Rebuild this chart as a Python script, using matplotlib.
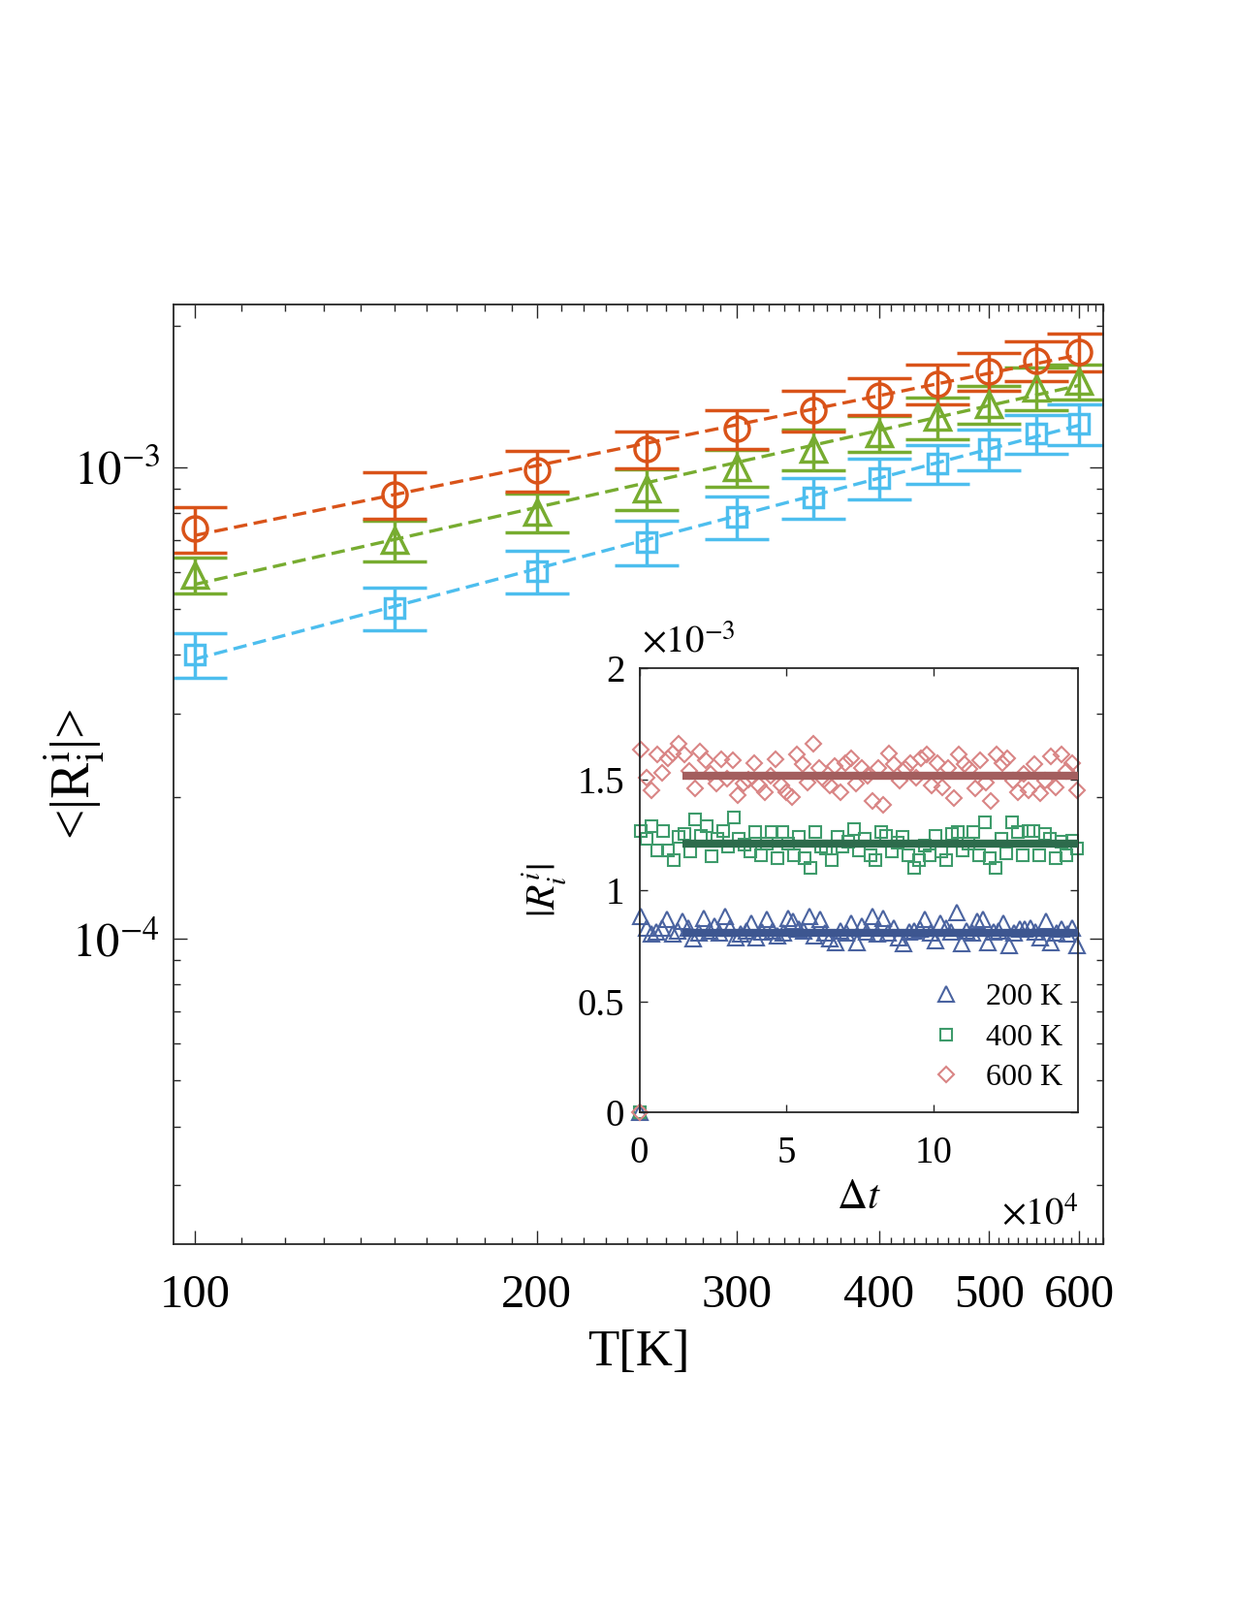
import matplotlib
matplotlib.use("Agg")
import matplotlib.pyplot as plt
import numpy as np
from matplotlib.ticker import FixedLocator, NullFormatter, FuncFormatter, LogLocator

plt.rcParams['font.family'] = ['Liberation Serif', 'DejaVu Serif']
plt.rcParams['mathtext.fontset'] = 'stix'

# main panel: <|R_i^i|> vs temperature (values in units of 1e-4)
temps = [100, 150, 200, 250, 300, 350, 400, 450, 500, 550, 600]
circ_val = [7.42, 8.76, 9.86, 10.94, 12.08, 13.22, 14.19, 15.03, 15.99, 16.84, 17.58]
circ_err = [0.82, 1.00, 0.98, 0.98, 1.14, 1.32, 1.30, 1.45, 1.47, 1.63, 1.62]
tri_val = [5.91, 7.01, 8.04, 9.01, 10.00, 10.94, 11.80, 12.79, 13.61, 14.75, 15.24]
tri_err = [0.52, 0.70, 0.75, 0.90, 0.90, 1.10, 1.04, 1.30, 1.24, 1.50, 1.29]
sq_val = [4.01, 5.03, 6.03, 6.95, 7.85, 8.63, 9.49, 10.19, 10.94, 11.80, 12.38]
sq_err = [0.43, 0.52, 0.62, 0.76, 0.81, 0.85, 0.95, 0.97, 1.07, 1.12, 1.21]

# inset: |R_i^i| vs time lag (values in units of 1e-3, first sample at dt = 0)
r_200 = [0, 0.882, 0.831, 0.803, 0.812, 0.831, 0.869, 0.803, 0.815, 0.860, 0.831, 0.782, 0.808, 0.875,
         0.817, 0.838, 0.810, 0.882, 0.831, 0.787, 0.805, 0.817, 0.853, 0.787, 0.812, 0.869, 0.817, 0.795,
         0.808, 0.875, 0.860, 0.825, 0.815, 0.882, 0.795, 0.869, 0.810, 0.782, 0.766, 0.817, 0.806, 0.853,
         0.766, 0.838, 0.812, 0.882, 0.803, 0.875, 0.808, 0.831, 0.787, 0.760, 0.814, 0.817, 0.825, 0.869,
         0.806, 0.773, 0.853, 0.831, 0.812, 0.898, 0.760, 0.817, 0.809, 0.860, 0.869, 0.766, 0.811, 0.817,
         0.853, 0.751, 0.806, 0.825, 0.825, 0.831, 0.813, 0.787, 0.860, 0.766, 0.808, 0.825, 0.803, 0.831,
         0.751]
r_400 = [0, 1.268, 1.231, 1.290, 1.180, 1.268, 1.180, 1.137, 1.240, 1.253, 1.175, 1.319, 1.246, 1.290,
         1.153, 1.231, 1.268, 1.196, 1.328, 1.231, 1.205, 1.175, 1.262, 1.158, 1.210, 1.262, 1.144, 1.262,
         1.212, 1.158, 1.240, 1.144, 1.100, 1.262, 1.196, 1.187, 1.137, 1.240, 1.198, 1.218, 1.275, 1.180,
         1.231, 1.158, 1.137, 1.262, 1.246, 1.175, 1.215, 1.240, 1.158, 1.100, 1.137, 1.202, 1.158, 1.246,
         1.175, 1.137, 1.253, 1.262, 1.180, 1.208, 1.262, 1.158, 1.306, 1.144, 1.100, 1.231, 1.166, 1.306,
         1.262, 1.158, 1.268, 1.268, 1.158, 1.253, 1.231, 1.144, 1.218, 1.158, 1.224, 1.187]
r_600 = [0, 1.633, 1.508, 1.450, 1.611, 1.530, 1.595, 1.617, 1.660, 1.611, 1.537, 1.458, 1.624, 1.585,
         1.524, 1.480, 1.590, 1.502, 1.585, 1.428, 1.480, 1.500, 1.573, 1.470, 1.440, 1.515, 1.590, 1.470,
         1.440, 1.420, 1.611, 1.568, 1.486, 1.660, 1.550, 1.500, 1.470, 1.560, 1.440, 1.573, 1.595, 1.480,
         1.550, 1.515, 1.400, 1.550, 1.384, 1.617, 1.568, 1.493, 1.546, 1.573, 1.508, 1.595, 1.611, 1.470,
         1.573, 1.464, 1.550, 1.415, 1.611, 1.568, 1.546, 1.458, 1.585, 1.486, 1.400, 1.611, 1.573, 1.595,
         1.493, 1.440, 1.524, 1.450, 1.568, 1.437, 1.493, 1.604, 1.464, 1.611, 1.537, 1.573, 1.450]
mean_levels = [0.806, 1.210, 1.517]
mean_span = [1.45, 14.9]   # x10^4
dt_end = 14.88              # last sample, x10^4
inset_labels = ['200 K', '400 K', '600 K']


def time_grid(vals):
    return np.concatenate([[0.0], np.linspace(0.05, dt_end, len(vals) - 1)])


fig = plt.figure(figsize=(12.75, 16.5), dpi=100)
ax = fig.add_axes([0.1404, 0.2224, 0.7521, 0.5870])

main_series = [
    (sq_val, sq_err, '#4DBEEE', 's', 14),
    (tri_val, tri_err, '#77AC30', '^', 19),
    (circ_val, circ_err, '#D95319', 'o', 18),
]
log_t = np.log(temps)
for vals, errs, col, mk, ms in main_series:
    v = np.array(vals) * 1e-4
    ax.errorbar(temps, v, yerr=np.array(errs) * 1e-4, fmt=mk, color=col, ms=ms,
                mfc='none', mew=2.5, elinewidth=2.5, capsize=24, capthick=2.5)
    coef = np.polyfit(log_t, np.log(v), 1)
    ax.plot(temps, np.exp(np.polyval(coef, log_t)), color=col, lw=2.4, dashes=(4.2, 2.0))

ax.set_xscale('log')
ax.set_yscale('log')
ax.set_xlim(95.8, 630)
ax.set_ylim(2.25e-5, 2.21e-3)
ax.xaxis.set_major_locator(FixedLocator([100, 200, 300, 400, 500, 600]))
ax.xaxis.set_major_formatter(FuncFormatter(lambda v, p: f'{v:.0f}'))
ax.xaxis.set_minor_locator(FixedLocator([t for t in range(100, 631, 10) if t % 100]))
ax.xaxis.set_minor_formatter(NullFormatter())
ax.yaxis.set_major_locator(FixedLocator([1e-4, 1e-3]))
ax.yaxis.set_major_formatter(FuncFormatter(lambda v, p: r'$10^{%d}$' % round(np.log10(v))))
ax.yaxis.set_minor_locator(LogLocator(base=10, subs=range(2, 10), numticks=20))
ax.yaxis.set_minor_formatter(NullFormatter())
ax.tick_params(which='both', direction='in', top=True, right=True, width=1.0, color='#262626')
ax.tick_params(which='major', length=10, labelsize=35)
ax.tick_params(axis='x', which='major', pad=22)
ax.tick_params(axis='y', which='major', pad=10)
ax.tick_params(which='minor', length=5)
for s in ax.spines.values():
    s.set_linewidth(1.3)
    s.set_color('#262626')
ax.set_xlabel('T[K]', fontsize=38, labelpad=10)
ax.set_ylabel(r'<|R$_{\rm i}^{\rm i}$|>', fontsize=40)
ax.yaxis.set_label_coords(-0.072, 0.5)

# inset
ins = fig.add_axes([0.5173, 0.3048, 0.3549, 0.2776])
inset_series = [
    (r_200, '^', 11, '#4A63A0', '#3D5690'),
    (r_400, 's', 8, '#3E9B6B', '#2D6B4C'),
    (r_600, 'D', 8.5, '#D98585', '#A35E5E'),
]
for (vals, mk, ms, col, lcol), lvl, lab in zip(inset_series, mean_levels, inset_labels):
    ins.plot(time_grid(vals), vals, linestyle='none', marker=mk, ms=ms, mfc='none',
             mec=col, mew=1.5, clip_on=False, label=lab)
    ins.plot(mean_span, [lvl, lvl], color=lcol, lw=6, solid_capstyle='butt', zorder=3)

ins.set_xlim(0, 14.9)
ins.set_ylim(0, 2)
ins.set_xticks([0, 5, 10])
ins.set_yticks([0, 0.5, 1, 1.5, 2])
fmt = FuncFormatter(lambda v, p: f'{v:g}')
ins.xaxis.set_major_formatter(fmt)
ins.yaxis.set_major_formatter(fmt)
ins.tick_params(direction='in', top=True, right=True, length=6, width=1.0,
                labelsize=28, color='#262626')
ins.tick_params(axis='x', pad=17)
ins.tick_params(axis='y', pad=11)
for s in ins.spines.values():
    s.set_linewidth(1.3)
    s.set_color('#262626')
ins.set_xlabel(r'$\Delta t$', fontsize=31, labelpad=6)
ins.set_ylabel(r'$|R_i^i|$', fontsize=30, labelpad=6)
ins.text(0.005, 1.015, r'$\times10^{-3}$', transform=ins.transAxes, fontsize=28,
         ha='left', va='bottom')
ins.text(1.0, -0.19, r'$\times10^{4}$', transform=ins.transAxes, fontsize=28,
         ha='right', va='top')
ins.legend(loc='lower right', bbox_to_anchor=(0.965, 0.045), frameon=False, fontsize=23,
           borderpad=0, labelspacing=0.38, handlelength=1.0, handletextpad=0.8,
           borderaxespad=0)

fig.savefig('out.png', dpi=100)
